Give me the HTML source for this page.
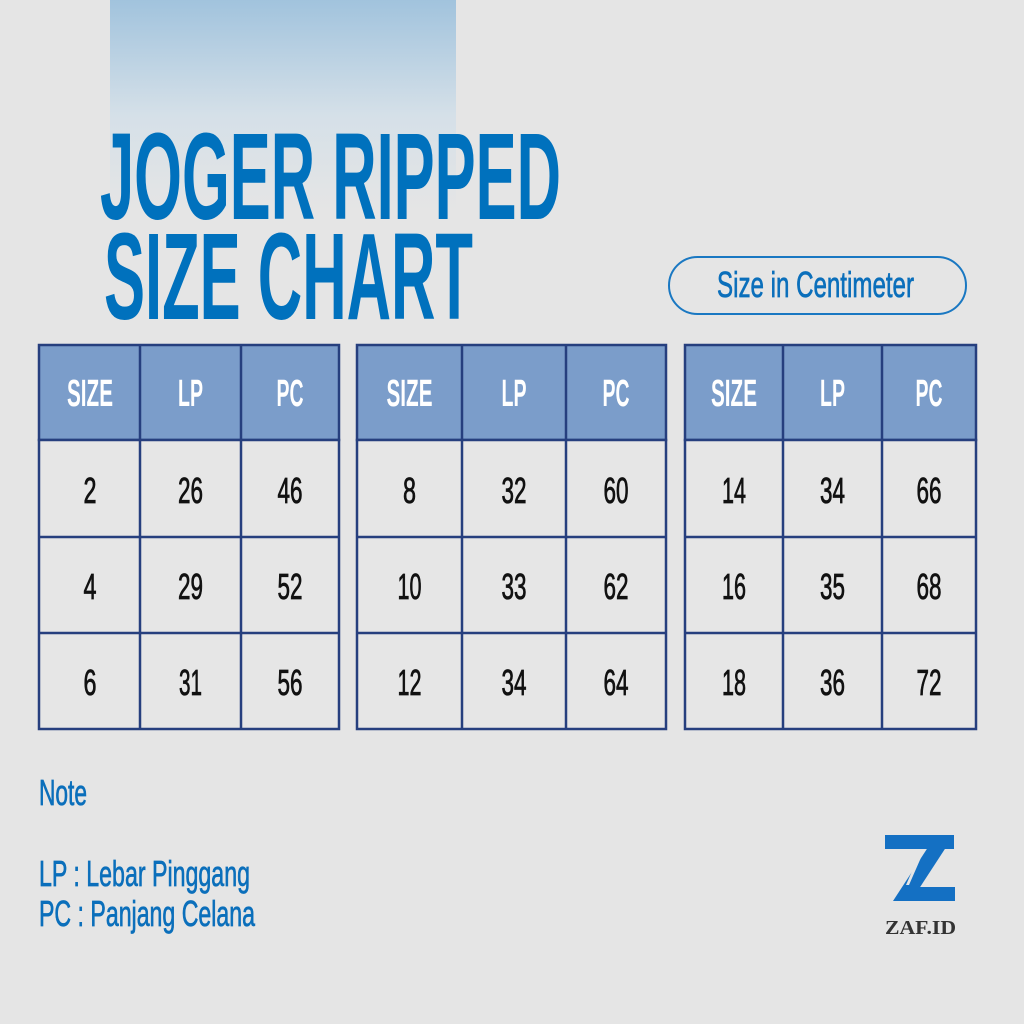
<!DOCTYPE html>
<html><head><meta charset="utf-8"><style>
html,body{margin:0;padding:0;background:#e5e5e5;}
svg{display:block;}
text{font-family:"Liberation Sans",sans-serif;}
</style></head><body>
<svg width="1024" height="1024" viewBox="0 0 1024 1024" xmlns="http://www.w3.org/2000/svg">
<defs>
<linearGradient id="g" x1="0" y1="0" x2="0" y2="1">
<stop offset="0" stop-color="#a1c3dd"/>
<stop offset="0.55" stop-color="#d5e0e8"/>
<stop offset="1" stop-color="#e5e5e5"/>
</linearGradient>
</defs>
<rect width="1024" height="1024" fill="#e5e5e5"/>
<rect x="110" y="0" width="346" height="210" fill="url(#g)"/>
<g fill="#0071bd" font-weight="bold">
<text x="100" y="219" font-size="123" textLength="461" lengthAdjust="spacingAndGlyphs">JOGER RIPPED</text>
<text x="104" y="319" font-size="123" textLength="369" lengthAdjust="spacingAndGlyphs">SIZE CHART</text>
</g>
<rect x="669" y="257" width="297" height="57" rx="28.5" fill="none" stroke="#1a78c2" stroke-width="2"/>
<text x="717" y="297" font-size="36" fill="#0b6fbb" stroke="#0b6fbb" stroke-width="0.7" textLength="197" lengthAdjust="spacingAndGlyphs">Size in Centimeter</text>

<g stroke="#263f7e" stroke-width="2.5">
<rect x="39" y="345" width="300" height="95" fill="#7b9dca"/>
<rect x="39" y="440" width="300" height="289" fill="#e6e6e6"/>
<line x1="140" y1="345" x2="140" y2="729"/><line x1="241" y1="345" x2="241" y2="729"/>
<line x1="39" y1="537" x2="339" y2="537"/><line x1="39" y1="633" x2="339" y2="633"/>

<rect x="357" y="345" width="309" height="95" fill="#7b9dca"/>
<rect x="357" y="440" width="309" height="289" fill="#e6e6e6"/>
<line x1="462" y1="345" x2="462" y2="729"/><line x1="566" y1="345" x2="566" y2="729"/>
<line x1="357" y1="537" x2="666" y2="537"/><line x1="357" y1="633" x2="666" y2="633"/>

<rect x="685" y="345" width="291" height="95" fill="#7b9dca"/>
<rect x="685" y="440" width="291" height="289" fill="#e6e6e6"/>
<line x1="783" y1="345" x2="783" y2="729"/><line x1="882" y1="345" x2="882" y2="729"/>
<line x1="685" y1="537" x2="976" y2="537"/><line x1="685" y1="633" x2="976" y2="633"/>
</g>

<g fill="#fff" font-weight="bold" font-size="38" text-anchor="middle">
<text x="90" y="406" textLength="46" lengthAdjust="spacingAndGlyphs">SIZE</text>
<text x="190.5" y="406" textLength="25" lengthAdjust="spacingAndGlyphs">LP</text>
<text x="290" y="406" textLength="27" lengthAdjust="spacingAndGlyphs">PC</text>
<text x="409.5" y="406" textLength="46" lengthAdjust="spacingAndGlyphs">SIZE</text>
<text x="514" y="406" textLength="25" lengthAdjust="spacingAndGlyphs">LP</text>
<text x="616" y="406" textLength="27" lengthAdjust="spacingAndGlyphs">PC</text>
<text x="734" y="406" textLength="46" lengthAdjust="spacingAndGlyphs">SIZE</text>
<text x="832.5" y="406" textLength="25" lengthAdjust="spacingAndGlyphs">LP</text>
<text x="929" y="406" textLength="27" lengthAdjust="spacingAndGlyphs">PC</text>
</g>

<g fill="#111" stroke="#111" stroke-width="0.8" font-size="36" text-anchor="middle">
<text x="90" y="503" textLength="13" lengthAdjust="spacingAndGlyphs">2</text>
<text x="190.5" y="503" textLength="25" lengthAdjust="spacingAndGlyphs">26</text>
<text x="290" y="503" textLength="25" lengthAdjust="spacingAndGlyphs">46</text>
<text x="90" y="599" textLength="13" lengthAdjust="spacingAndGlyphs">4</text>
<text x="190.5" y="599" textLength="25" lengthAdjust="spacingAndGlyphs">29</text>
<text x="290" y="599" textLength="25" lengthAdjust="spacingAndGlyphs">52</text>
<text x="90" y="695" textLength="13" lengthAdjust="spacingAndGlyphs">6</text>
<text x="190.5" y="695" textLength="23" lengthAdjust="spacingAndGlyphs">31</text>
<text x="290" y="695" textLength="25" lengthAdjust="spacingAndGlyphs">56</text>

<text x="409.5" y="503" textLength="13" lengthAdjust="spacingAndGlyphs">8</text>
<text x="514" y="503" textLength="25" lengthAdjust="spacingAndGlyphs">32</text>
<text x="616" y="503" textLength="25" lengthAdjust="spacingAndGlyphs">60</text>
<text x="409.5" y="599" textLength="24" lengthAdjust="spacingAndGlyphs">10</text>
<text x="514" y="599" textLength="25" lengthAdjust="spacingAndGlyphs">33</text>
<text x="616" y="599" textLength="25" lengthAdjust="spacingAndGlyphs">62</text>
<text x="409.5" y="695" textLength="24" lengthAdjust="spacingAndGlyphs">12</text>
<text x="514" y="695" textLength="25" lengthAdjust="spacingAndGlyphs">34</text>
<text x="616" y="695" textLength="25" lengthAdjust="spacingAndGlyphs">64</text>

<text x="734" y="503" textLength="24" lengthAdjust="spacingAndGlyphs">14</text>
<text x="832.5" y="503" textLength="25" lengthAdjust="spacingAndGlyphs">34</text>
<text x="929" y="503" textLength="25" lengthAdjust="spacingAndGlyphs">66</text>
<text x="734" y="599" textLength="24" lengthAdjust="spacingAndGlyphs">16</text>
<text x="832.5" y="599" textLength="25" lengthAdjust="spacingAndGlyphs">35</text>
<text x="929" y="599" textLength="25" lengthAdjust="spacingAndGlyphs">68</text>
<text x="734" y="695" textLength="24" lengthAdjust="spacingAndGlyphs">18</text>
<text x="832.5" y="695" textLength="25" lengthAdjust="spacingAndGlyphs">36</text>
<text x="929" y="695" textLength="25" lengthAdjust="spacingAndGlyphs">72</text>
</g>

<g fill="#0b6fbb" stroke="#0b6fbb" stroke-width="0.7" font-size="36">
<text x="39" y="805" textLength="48" lengthAdjust="spacingAndGlyphs">Note</text>
<text x="39" y="886" textLength="211" lengthAdjust="spacingAndGlyphs">LP : Lebar Pinggang</text>
<text x="39" y="926" textLength="216" lengthAdjust="spacingAndGlyphs">PC : Panjang Celana</text>
</g>

<g fill="#1470c3">
<rect x="885" y="835" width="69" height="14"/>
<polygon points="936,835 954,835 911,901 893,901"/>
<rect x="905" y="887" width="50" height="14"/>
</g>
<polygon points="920,853 923,853 909,885 906,885" fill="#e5e5e5"/>
<text x="920.5" y="934" style="font-family:'Liberation Serif',serif" font-weight="bold" font-size="20" fill="#333" text-anchor="middle" textLength="71" lengthAdjust="spacingAndGlyphs">ZAF.ID</text>
</svg>
</body></html>
